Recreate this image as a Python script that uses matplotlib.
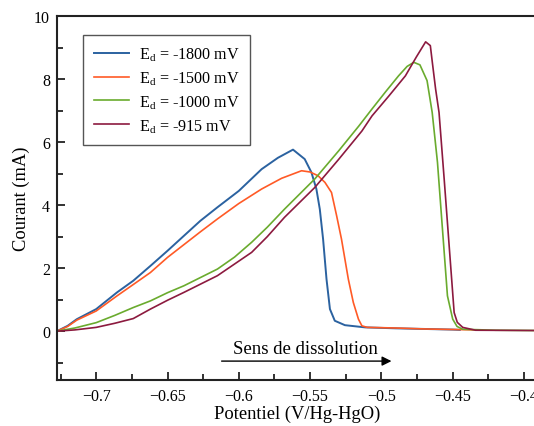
import matplotlib
matplotlib.use("Agg")
import matplotlib.pyplot as plt
from matplotlib.ticker import MultipleLocator

plt.rcParams['font.family'] = ['Liberation Serif', 'DejaVu Serif']
plt.rcParams['mathtext.fontset'] = 'custom'
plt.rcParams['mathtext.rm'] = 'Liberation Serif'

labels = [r"E$_\mathregular{d}$ = -1800 mV", r"E$_\mathregular{d}$ = -1500 mV",
          r"E$_\mathregular{d}$ = -1000 mV", r"E$_\mathregular{d}$ = -915 mV"]
colors = ["#2b62a0", "#ff5a26", "#6aab2e", "#8c1a3f"]

x_1800 = [-0.7275, -0.720, -0.7136, -0.700, -0.6854, -0.674, -0.662, -0.650, -0.627, -0.615,
          -0.600, -0.584, -0.5726, -0.562, -0.5538, -0.5491, -0.5456, -0.5432, -0.5409,
          -0.5385, -0.5361, -0.5327, -0.5256, -0.5114, -0.490, -0.470, -0.450, -0.445]
y_1800 = [0.0, 0.17, 0.38, 0.70, 1.23, 1.60, 2.07, 2.55, 3.50, 3.93,
          4.45, 5.14, 5.50, 5.76, 5.46, 5.04, 4.51, 3.87, 2.92,
          1.65, 0.70, 0.33, 0.19, 0.12, 0.09, 0.07, 0.05, 0.04]

x_1500 = [-0.7275, -0.720, -0.7136, -0.700, -0.6854, -0.674, -0.662, -0.650, -0.627, -0.615,
          -0.600, -0.584, -0.570, -0.556, -0.550, -0.5444, -0.5396, -0.535, -0.5314, -0.528,
          -0.5232, -0.5197, -0.5161, -0.5137, -0.510, -0.490, -0.470, -0.434]
y_1500 = [0.0, 0.15, 0.35, 0.64, 1.12, 1.48, 1.86, 2.34, 3.15, 3.56,
          4.05, 4.51, 4.85, 5.09, 5.05, 4.93, 4.72, 4.40, 3.66, 2.92,
          1.65, 0.91, 0.38, 0.17, 0.12, 0.10, 0.07, 0.04]

x_1000 = [-0.7275, -0.715, -0.700, -0.687, -0.674, -0.662, -0.650, -0.6385, -0.615, -0.603,
          -0.591, -0.580, -0.568, -0.5467, -0.530, -0.516, -0.5066, -0.497, -0.488, -0.482,
          -0.4773, -0.473, -0.468, -0.4644, -0.4607, -0.4572, -0.4537, -0.450, -0.447,
          -0.443, -0.420, -0.391]
y_1000 = [0.0, 0.10, 0.27, 0.50, 0.75, 0.96, 1.22, 1.44, 1.97, 2.35,
          2.82, 3.30, 3.87, 4.83, 5.72, 6.50, 7.05, 7.60, 8.10, 8.40,
          8.53, 8.45, 7.95, 6.94, 5.36, 3.24, 1.12, 0.38, 0.15,
          0.06, 0.03, 0.02]

x_915 = [-0.7275, -0.715, -0.700, -0.687, -0.674, -0.662, -0.650, -0.6385, -0.615, -0.603,
         -0.591, -0.580, -0.568, -0.5467, -0.530, -0.5137, -0.5066, -0.495, -0.4832, -0.4755,
         -0.469, -0.4657, -0.4643, -0.462, -0.4596, -0.456, -0.4525, -0.449, -0.4468,
         -0.443, -0.434, -0.391]
y_915 = [0.0, 0.04, 0.12, 0.25, 0.40, 0.70, 0.98, 1.23, 1.76, 2.13,
         2.50, 3.00, 3.61, 4.56, 5.45, 6.35, 6.83, 7.45, 8.10, 8.70,
         9.18, 9.06, 8.53, 7.68, 6.94, 4.83, 2.71, 0.59, 0.28,
         0.12, 0.03, 0.02]

series = [(x_1800, y_1800), (x_1500, y_1500), (x_1000, y_1000), (x_915, y_915)]
widths = [1.4, 1.2, 1.2, 1.2]

fig = plt.figure(figsize=(5.34, 4.27), dpi=100)
ax = fig.add_axes([0.1067, 0.1077, 0.9, 0.8525])

for (xs, ys), c, lab, lw in zip(series, colors, labels, widths):
    ax.plot(xs, ys, color=c, lw=lw, label=lab)

ax.set_xlim(-0.7275, -0.3905)
ax.set_ylim(-1.55, 10)
ax.xaxis.set_major_locator(MultipleLocator(0.05))
ax.xaxis.set_minor_locator(MultipleLocator(0.025))
ax.yaxis.set_major_locator(MultipleLocator(2))
ax.yaxis.set_minor_locator(MultipleLocator(1))
ax.xaxis.set_major_formatter(plt.FuncFormatter(lambda v, p: ('%g' % round(v, 3)).replace('-', '\u2212')))
ax.yaxis.set_major_formatter(plt.FuncFormatter(lambda v, p: '%g' % round(v, 3)))
ax.tick_params(which='both', direction='in', width=1.3, labelsize=11.5, color='#222222')
ax.tick_params(which='major', length=6)
ax.tick_params(which='minor', length=4)
ax.tick_params(axis='x', pad=6)
ax.tick_params(axis='y', pad=5)
for s in ax.spines.values():
    s.set_linewidth(1.5)
    s.set_color('#222222')

ax.set_xlabel("Potentiel (V/Hg-HgO)", fontsize=13.3, labelpad=0)
ax.set_ylabel("Courant (mA)", fontsize=13.3, labelpad=3)

leg = ax.legend(loc='upper left', bbox_to_anchor=(0.0545, 0.948), borderaxespad=0,
                fontsize=11.6, fancybox=False, edgecolor='#555555', framealpha=1,
                handlelength=2.2, handletextpad=0.6, labelspacing=0.38, borderpad=0.65)
leg.get_frame().set_linewidth(1.0)

ax.annotate("", xy=(-0.491, -0.95), xytext=(-0.614, -0.95),
            arrowprops=dict(arrowstyle='-|>', color='black', lw=1.0, mutation_scale=14))
ax.text(-0.553, -0.68, "Sens de dissolution", ha='center', va='baseline', fontsize=13.5)

fig.savefig("out.png", dpi=100)
